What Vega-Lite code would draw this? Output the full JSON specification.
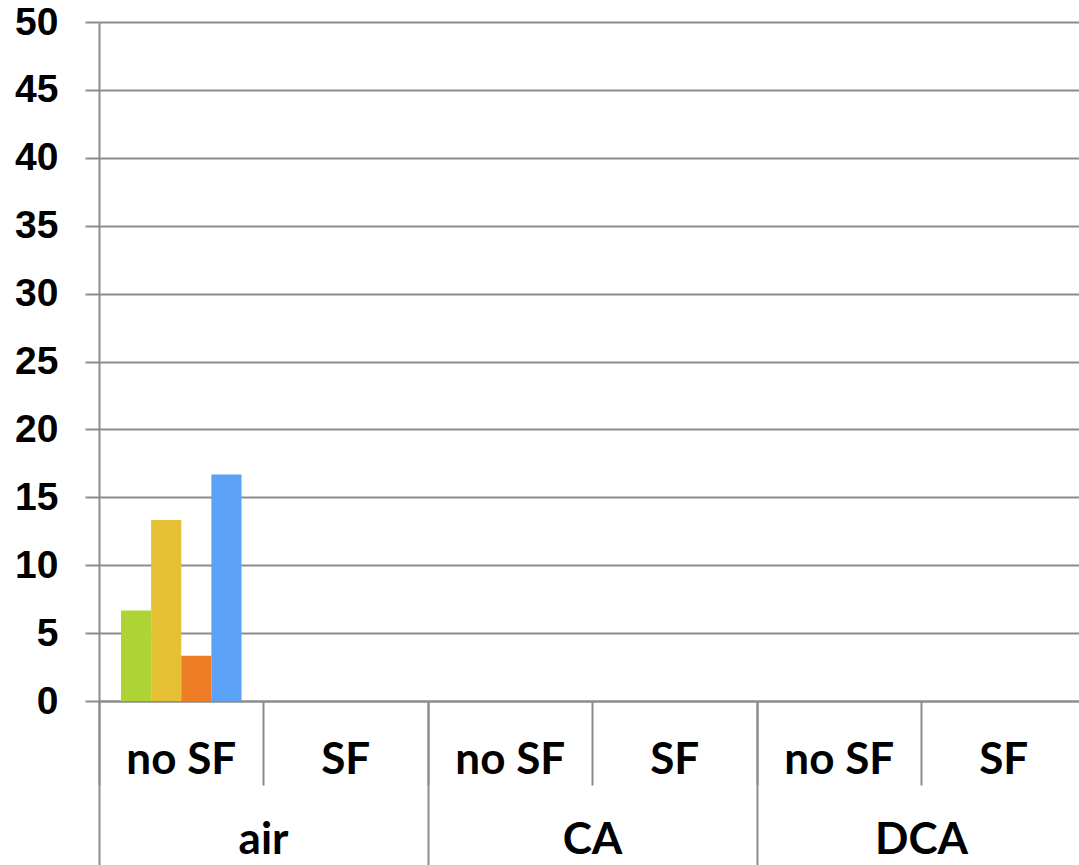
{
  "$schema": "https://vega.github.io/schema/vega-lite/v6.json",
  "autosize": "none",
  "padding": {"left": 99, "top": 22, "right": 0, "bottom": 164},
  "width": 987,
  "height": 679,
  "background": "white",
  "config": {"view": {"stroke": null}},
  "data": {
    "values": [
      {"group": "air", "key": "air|no SF", "series": "series 1", "value": 6.67},
      {"group": "air", "key": "air|no SF", "series": "series 2", "value": 13.33},
      {"group": "air", "key": "air|no SF", "series": "series 3", "value": 3.33},
      {"group": "air", "key": "air|no SF", "series": "series 4", "value": 16.67},
      {"group": "air", "key": "air|SF", "series": "series 1", "value": 0},
      {"group": "air", "key": "air|SF", "series": "series 2", "value": 0},
      {"group": "air", "key": "air|SF", "series": "series 3", "value": 0},
      {"group": "air", "key": "air|SF", "series": "series 4", "value": 0},
      {"group": "CA", "key": "CA|no SF", "series": "series 1", "value": 0},
      {"group": "CA", "key": "CA|no SF", "series": "series 2", "value": 0},
      {"group": "CA", "key": "CA|no SF", "series": "series 3", "value": 0},
      {"group": "CA", "key": "CA|no SF", "series": "series 4", "value": 0},
      {"group": "CA", "key": "CA|SF", "series": "series 1", "value": 0},
      {"group": "CA", "key": "CA|SF", "series": "series 2", "value": 0},
      {"group": "CA", "key": "CA|SF", "series": "series 3", "value": 0},
      {"group": "CA", "key": "CA|SF", "series": "series 4", "value": 0},
      {"group": "DCA", "key": "DCA|no SF", "series": "series 1", "value": 0},
      {"group": "DCA", "key": "DCA|no SF", "series": "series 2", "value": 0},
      {"group": "DCA", "key": "DCA|no SF", "series": "series 3", "value": 0},
      {"group": "DCA", "key": "DCA|no SF", "series": "series 4", "value": 0},
      {"group": "DCA", "key": "DCA|SF", "series": "series 1", "value": 0},
      {"group": "DCA", "key": "DCA|SF", "series": "series 2", "value": 0},
      {"group": "DCA", "key": "DCA|SF", "series": "series 3", "value": 0},
      {"group": "DCA", "key": "DCA|SF", "series": "series 4", "value": 0}
    ]
  },
  "layer": [
    {
      "mark": {"type": "bar"},
      "encoding": {
        "x": {
          "field": "key",
          "type": "nominal",
          "sort": null,
          "scale": {"type": "band", "paddingInner": 0, "paddingOuter": 0},
          "axis": {
            "orient": "bottom",
            "title": null,
            "grid": false,
            "bandPosition": 0,
            "domain": true,
            "domainColor": "#8c8c8c",
            "domainWidth": 2,
            "ticks": true,
            "tickColor": "#8c8c8c",
            "tickWidth": 2,
            "tickSize": 84,
            "labelAngle": 0,
            "labelExpr": "split(datum.label, '|')[1]",
            "labelFont": "Lato",
            "labelFontWeight": "bold",
            "labelFontSize": 44,
            "labelColor": "black",
            "labelBaseline": "alphabetic",
            "labelPadding": -12,
            "labelOverlap": false
          }
        },
        "xOffset": {
          "field": "series",
          "type": "nominal",
          "scale": {"paddingInner": 0, "paddingOuter": 0.73}
        },
        "y": {
          "field": "value",
          "type": "quantitative",
          "scale": {"domain": [0, 50], "nice": false},
          "axis": {
            "title": null,
            "values": [0, 5, 10, 15, 20, 25, 30, 35, 40, 45, 50],
            "grid": true,
            "gridColor": "#8c8c8c",
            "gridWidth": 2,
            "domain": true,
            "domainColor": "#8c8c8c",
            "domainWidth": 2,
            "ticks": true,
            "tickColor": "#8c8c8c",
            "tickWidth": 2,
            "tickSize": 14,
            "labelFont": "Liberation Sans",
            "labelFontWeight": "bold",
            "labelFontSize": 39,
            "labelColor": "black",
            "labelPadding": 27
          }
        },
        "color": {
          "field": "series",
          "type": "nominal",
          "scale": {
            "domain": ["series 1", "series 2", "series 3", "series 4"],
            "range": ["#add434", "#e6c034", "#ee7d25", "#5ba1f5"]
          },
          "legend": null
        }
      }
    },
    {
      "mark": {"type": "bar", "opacity": 0},
      "encoding": {
        "x": {
          "field": "group",
          "type": "nominal",
          "sort": null,
          "scale": {"type": "band", "paddingInner": 0, "paddingOuter": 0},
          "axis": {
            "orient": "bottom",
            "title": null,
            "grid": false,
            "bandPosition": 0,
            "domain": false,
            "ticks": true,
            "tickColor": "#8c8c8c",
            "tickWidth": 2,
            "tickSize": 164,
            "labelAngle": 0,
            "labelFont": "Lato",
            "labelFontWeight": "bold",
            "labelFontSize": 44,
            "labelColor": "black",
            "labelBaseline": "alphabetic",
            "labelPadding": -12,
            "labelOverlap": false
          }
        },
        "y": {"field": "value", "type": "quantitative"}
      }
    }
  ],
  "resolve": {"scale": {"x": "independent", "xOffset": "independent"}, "axis": {"x": "independent"}}
}
